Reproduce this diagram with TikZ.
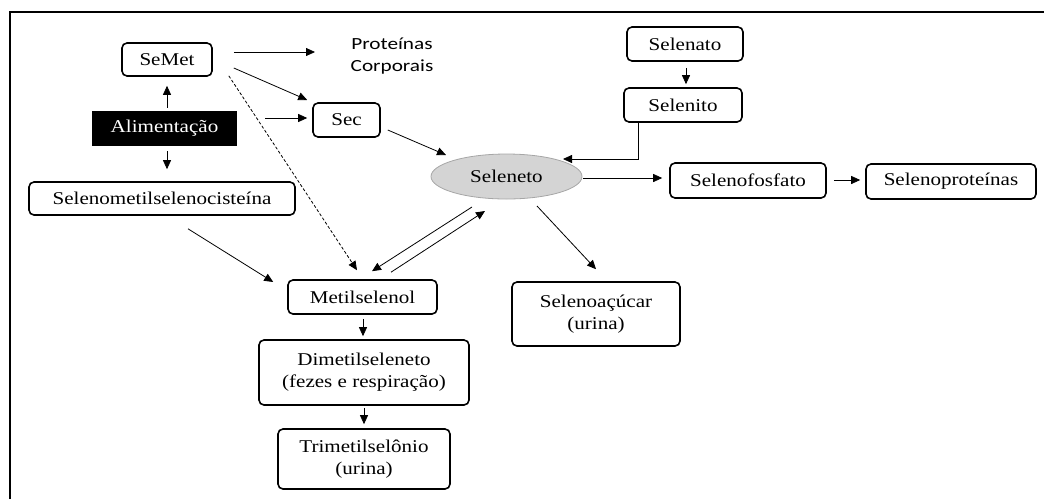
\documentclass[tikz,border=0pt]{standalone}
\usepackage{fontspec}
\setmainfont[FakeStretch=1.17]{Liberation Serif}
\newfontfamily\protfont[FakeStretch=1.25]{Carlito}
\usetikzlibrary{arrows.meta,calc,shapes.geometric}
\tikzset{
  box/.style={draw=black, line width=1.6pt, rounded corners=5pt, inner sep=0pt, align=center,
              font=\fontsize{18}{22}\selectfont, fill=white},
  arr/.style={-{Triangle[length=9pt,width=8pt]}, line width=0.8pt},
  dsh/.style={-{Triangle[length=9pt,width=8pt]}, line width=0.8pt, dash pattern=on 3pt off 2pt},
}
\begin{document}
\begin{tikzpicture}[x=1pt,y=-1pt]
\useasboundingbox (0,0) rectangle (1044,499);
\draw[line width=2.5pt] (10,499) -- (10,12) -- (1044,12);

\node[box, minimum width=90pt, minimum height=33pt] (semet) at (167,59.5) {SeMet};
\node[align=center, font=\protfont\fontsize{17}{22}\selectfont, inner sep=0pt] (prot) at (392,56) {Proteínas\\Corporais};
\node[fill=black, text=white, inner sep=0pt, minimum width=145pt, minimum height=35pt, font=\fontsize{18}{22}\selectfont] (alim) at (164.5,128.5) {Alimentação};
\node[box, minimum width=266pt, minimum height=33pt] (selmc) at (162,198.5) {Selenometilselenocisteína};
\node[box, minimum width=67pt, minimum height=34pt] (sec) at (346.5,120) {Sec};
\node[ellipse, draw=gray!70, line width=0.8pt, fill=black!17, minimum width=151pt, minimum height=45pt, inner sep=0pt, font=\fontsize{18}{22}\selectfont] (selen) at (506.5,176.5) {Seleneto};
\node[box, minimum width=116pt, minimum height=34pt] (selenato) at (685,44) {Selenato};
\node[box, minimum width=118pt, minimum height=34pt] (selenito) at (683,105) {Selenito};
\node[box, minimum width=156pt, minimum height=35pt] (fosf) at (748,180.5) {Selenofosfato};
\node[box, minimum width=170pt, minimum height=35pt] (prots) at (951,181.5) {Selenoproteínas};
\node[box, minimum width=149pt, minimum height=34pt] (metil) at (362.5,297) {Metilselenol};
\node[box, minimum width=210pt, minimum height=65pt] (dimetil) at (364,372.5) {Dimetilseleneto\\(fezes e respiração)};
\node[box, minimum width=172pt, minimum height=60pt] (trimetil) at (364,459) {Trimetilselônio\\(urina)};
\node[box, minimum width=168pt, minimum height=64pt] (acucar) at (596,314) {Selenoaçúcar\\(urina)};

\draw[arr] ($(semet.east)+(21,-7.5)$) -- ($(prot)+(-77,-4)$);
\draw[arr] ($(alim.north)+(2.5,-3)$) -- ($(semet.south)+(0,9)$);
\draw[arr] ($(alim.south)+(2.5,5)$) -- ($(selmc.north)+(5,-12)$);
\draw[arr] ($(semet.east)+(21,8.5)$) -- ($(sec.west)+(-5,-20)$);
\draw[arr] ($(alim.east)+(28,-10.5)$) -- ($(sec.west)+(-5,-2)$);
\draw[arr] ($(sec.east)+(7,10)$) -- ($(selen)+(-60.5,-21.5)$);
\draw[dsh] ($(semet.south east)+(16,-1)$) -- ($(metil.north)+(-5.5,-9)$);
\draw[arr] ($(selmc.south)+(26,13)$) -- ($(metil.west)+(-14,-15)$);
\draw[arr] ($(selen)+(-34.5,30.5)$) -- ($(metil.north)+(9.5,-8)$);
\draw[arr] ($(metil.north)+(28.5,-7)$) -- ($(selen)+(-21.5,34.5)$);
\draw[arr] ($(selen)+(30.5,29.5)$) -- ($(acucar.north)+(0,-12)$);
\draw[arr] ($(selenato.south)+(1,6)$) -- ($(selenito.north)+(3,-3)$);
\draw[arr] ($(selenito.south)+(-45,0)$) |- ($(selen)+(56.5,-17.5)$);
\draw[arr] ($(selen.east)+(1,1.5)$) -- ($(fosf.west)+(-7,-2.5)$);
\draw[arr] ($(fosf.east)+(7,-0.5)$) -- ($(prots.west)+(-5,-1.5)$);
\draw[arr] ($(metil.south)+(0.5,4)$) -- ($(dimetil.north)+(-1,-3)$);
\draw[arr] ($(dimetil.south)+(0,2)$) -- ($(trimetil.north)+(0,-4)$);
\end{tikzpicture}
\end{document}
